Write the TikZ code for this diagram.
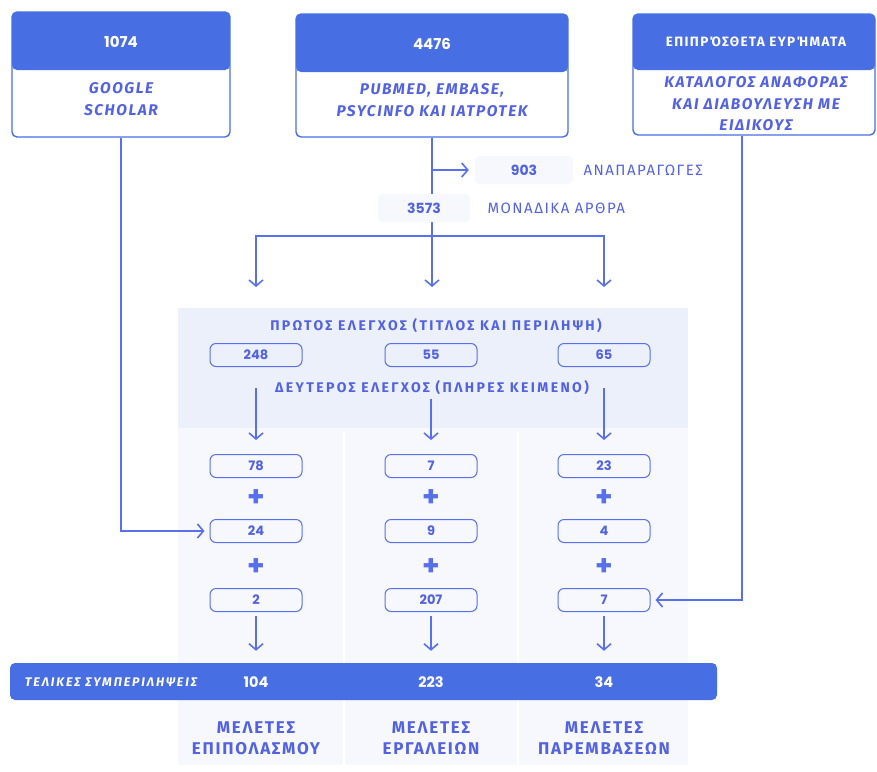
\documentclass[tikz,border=0pt]{standalone}
\usepackage{fontspec}
\setmainfont{Fira Sans}
\newfontfamily\trackfont{Fira Sans}[LetterSpace=10]
\newfontfamily\widefont{Fira Sans}[LetterSpace=17]
\newfontfamily\finfont{Fira Sans}[LetterSpace=15]
\newfontfamily\numfont{Poppins}
\usetikzlibrary{arrows.meta}
\definecolor{hdrblue}{RGB}{72,110,228}
\definecolor{lnblue}{RGB}{88,112,236}
\definecolor{txtblue}{RGB}{82,98,226}
\definecolor{panel}{RGB}{236,240,251}
\definecolor{panellight}{RGB}{246,248,253}

\tikzset{
  arr/.style={draw=lnblue, line width=1.6pt, -{Straight Barb[length=6pt,width=14pt]}},
  ln/.style={draw=lnblue, line width=1.6pt},
  hdr/.style={path picture={\fill[hdrblue] (path picture bounding box.north west) rectangle ([yshift=-#1]path picture bounding box.north east);}},
  srcbox/.style={draw=hdrblue, line width=1.4pt, rounded corners=5pt, fill=white},
  hdrtxt/.style={text=white, font=\numfont\fontsize{15}{18}\selectfont\bfseries},
  bodytxt/.style={text=txtblue, align=center, font=\trackfont\fontsize{15.5}{21.5}\selectfont\itshape\bfseries},
  softbox/.style={fill=panellight, rounded corners=4pt, minimum height=28pt, text=txtblue, font=\numfont\fontsize{14}{16}\selectfont\bfseries},
  lbl/.style={text=txtblue, font=\trackfont\fontsize{15}{17}\selectfont},
  steptxt/.style={text=txtblue, font=\widefont\fontsize{14}{16}\selectfont\bfseries},
  numbox/.style={draw=lnblue, line width=1pt, rounded corners=6pt, minimum width=92pt, minimum height=23pt, text=txtblue, font=\numfont\fontsize{13}{15}\selectfont\bfseries},
  plus/.style={text=lnblue, font=\numfont\fontsize{28}{28}\selectfont\bfseries},
  fintxt/.style={text=white, font=\finfont\fontsize{12.5}{14}\selectfont\itshape\bfseries},
  finnum/.style={text=white, font=\numfont\fontsize{14.5}{16}\selectfont\bfseries},
  outtxt/.style={text=txtblue, align=center, font=\trackfont\fontsize{17}{21}\selectfont\bfseries},
}

\begin{document}
\begin{tikzpicture}[x=1pt,y=-1pt]
\useasboundingbox (0,0) rectangle (877,771);
% screening panel
\fill[panellight] (178,428) rectangle (688,765);
\fill[panel] (178,308) rectangle (688,428);
\draw[white, line width=2pt] (344,432) -- (344,765) (518,432) -- (518,765);

% sources
\node[srcbox, hdr=58pt, minimum width=218pt, minimum height=125pt] (gs) at (121,74.5) {};
\node[hdrtxt] (gsn) at (121,42) {1074};
\node[bodytxt] (gst) at (121,99) {GOOGLE\\SCHOLAR};

\node[srcbox, hdr=58pt, minimum width=272pt, minimum height=123pt] (db) at (432,75.5) {};
\node[hdrtxt] (dbn) at (432,44) {4476};
\node[bodytxt] (dbt) at (432,100) {PUBMED, EMBASE,\\PSYCINFO ΚΑΙ ΙΑΤΡΟΤΕΚ};

\node[srcbox, hdr=56pt, minimum width=242pt, minimum height=121pt] (ex) at (754,74.5) {};
\node[hdrtxt, font=\trackfont\fontsize{13.5}{16}\selectfont\bfseries] (exn) at (756,42) {ΕΠΙΠΡΌΣΘΕΤΑ ΕΥΡΉΜΑΤΑ};
\node[bodytxt] (ext) at (756,104) {ΚΑΤΑΛΟΓΟΣ ΑΝΑΦΟΡΑΣ\\ΚΑΙ ΔΙΑΒΟΥΛΕΥΣΗ ΜΕ\\ΕΙΔΙΚΟΥΣ};

% duplicates
\coordinate (split) at (432,236);
\draw[ln] (db.south) -- (split);
\node[softbox, minimum width=98pt] (dup) at (524,170) {903};
\node[lbl, anchor=west] (dupl) at (580,170) {ΑΝΑΠΑΡΑΓΩΓΕΣ};
\node[softbox, minimum width=92pt] (uniq) at (424,208) {3573};
\node[lbl, anchor=west] (uniql) at (484,208) {ΜΟΝΑΔΙΚΑ ΑΡΘΡΑ};
\draw[arr, shorten >=6pt] (db.south |- dup.west) -- (dup.west);

\coordinate (a1) at (256,287);
\coordinate (a2) at (432,287);
\coordinate (a3) at (604,287);
\draw[arr] (split) -| (a1);
\draw[arr] (split) -| (a3);
\draw[arr] (split) -- (a2);

% screening
\node[steptxt] (t1) at (436,326) {ΠΡΩΤΟΣ ΕΛΕΓΧΟΣ (ΤΙΤΛΟΣ ΚΑΙ ΠΕΡΙΛΗΨΗ)};
\node[numbox] (s1) at (256,355) {248};
\node[numbox] (s2) at (431,355) {55};
\node[numbox] (s3) at (604,355) {65};
\node[steptxt] (t2) at (432,388) {ΔΕΥΤΕΡΟΣ ΕΛΕΓΧΟΣ (ΠΛΗΡΕΣ ΚΕΙΜΕΝΟ)};

\node[numbox] (r11) at (256,466) {78};
\node[plus] (p11) at (256,498) {+};
\node[numbox] (r12) at (256,531) {24};
\node[plus] (p12) at (256,567) {+};
\node[numbox] (r13) at (256,600) {2};

\node[numbox] (r21) at (431,466) {7};
\node[plus] (p21) at (431,498) {+};
\node[numbox] (r22) at (431,531) {9};
\node[plus] (p22) at (431,567) {+};
\node[numbox] (r23) at (431,600) {207};

\node[numbox] (r31) at (604,466) {23};
\node[plus] (p31) at (604,498) {+};
\node[numbox] (r32) at (604,531) {4};
\node[plus] (p32) at (604,567) {+};
\node[numbox] (r33) at (604,600) {7};

\draw[arr] (s1 |- t2) -- ([yshift=14pt]r11.north);
\draw[arr] (t2.south -| s2) -- ([yshift=14pt]r21.north);
\draw[arr] (s3 |- t2) -- ([yshift=14pt]r31.north);

\draw[arr, shorten >=5pt] (gs.south) |- (r12.west);
\draw[arr, shorten >=5pt] ([xshift=-12pt]ex.south) |- (r33.east);

% final
\node[fill=hdrblue, rounded corners=5pt, minimum width=707pt, minimum height=37pt] (fin) at (363.5,681.5) {};
\node[fintxt] (finl) at (111,682) {ΤΕΛΙΚΕΣ ΣΥΜΠΕΡΙΛΗΨΕΙΣ};
\node[finnum] (f1) at (256,682) {104};
\node[finnum] (f2) at (431,682) {223};
\node[finnum] (f3) at (604,682) {34};

\draw[arr] ([yshift=-4pt]r13.south) -- ([yshift=12pt]fin.north -| r13);
\draw[arr] ([yshift=-4pt]r23.south) -- ([yshift=12pt]fin.north -| r23);
\draw[arr] ([yshift=-4pt]r33.south) -- ([yshift=12pt]fin.north -| r33);

\node[outtxt] (o1) at (256,738) {ΜΕΛΕΤΕΣ\\ΕΠΙΠΟΛΑΣΜΟΥ};
\node[outtxt] (o2) at (431,738) {ΜΕΛΕΤΕΣ\\ΕΡΓΑΛΕΙΩΝ};
\node[outtxt] (o3) at (604,738) {ΜΕΛΕΤΕΣ\\ΠΑΡΕΜΒΑΣΕΩΝ};
\end{tikzpicture}
\end{document}
